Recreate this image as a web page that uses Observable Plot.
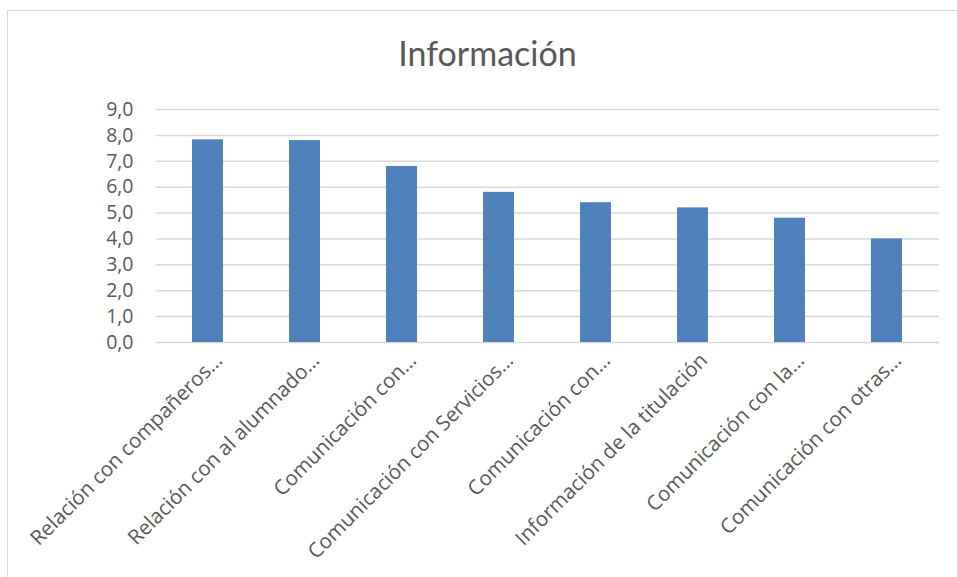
<!DOCTYPE html>
<html>
<head>
<meta charset="utf-8">
<script src="https://cdn.jsdelivr.net/npm/d3@7"></script>
<script src="https://cdn.jsdelivr.net/npm/@observablehq/plot@0.6"></script>
<style>
  html, body { margin: 0; padding: 0; background: #fff; }
  #wrap { position: relative; width: 957px; height: 577px; overflow: hidden; font-family: Lato, "Open Sans", sans-serif; }
  #frame { position: absolute; left: 7px; top: 10px; width: 1000px; height: 700px; border: 1.5px solid #d9d9d9; box-sizing: border-box; }
  #title { position: absolute; left: 7px; width: 961px; top: 33px; text-align: center; font-size: 34px; color: #595959; line-height: 40px; }
  #chart { position: absolute; left: 0; top: 0; }
</style>
</head>
<body>
<div id="wrap">
  <div id="frame"></div>
  <div id="title">Información</div>
  <div id="chart"></div>
</div>
<script>
const categories = [
  "Relación con compañeros",
  "Relación con al alumnado",
  "Comunicación con el profesorado",
  "Comunicación con Servicios",
  "Comunicación con coordinación",
  "Información de la titulación",
  "Comunicación con la dirección",
  "Comunicación con otras unidades"
];
const tickLabels = [
  "Relación con compañeros…",
  "Relación con al alumnado…",
  "Comunicación con…",
  "Comunicación con Servicios…",
  "Comunicación con…",
  "Información de la titulación",
  "Comunicación con la…",
  "Comunicación con otras…"
];
const values = [7.83, 7.8, 6.8, 5.8, 5.4, 5.2, 4.8, 4.0];
const yTicks = [0, 1, 2, 3, 4, 5, 6, 7, 8, 9];

const data = categories.map((c, i) => ({cat: c, label: tickLabels[i], value: values[i]}));
const fmt = d => d3.format(".1f")(d).replace(".", ",");

const chart = Plot.plot({
  width: 957,
  height: 577,
  marginTop: 109,
  marginBottom: 235,
  marginLeft: 156,
  marginRight: 18,
  style: {fontFamily: "'Open Sans', Lato, sans-serif", background: "transparent", color: "#595959"},
  x: {domain: categories, paddingInner: 0.68, paddingOuter: 0.34, axis: null},
  y: {domain: [0, 9], axis: null},
  marks: [
    Plot.gridY(yTicks, {stroke: "#d9d9d9", strokeOpacity: 1, strokeWidth: 1.5}),
    Plot.barY(data, {x: "cat", y: "value", fill: "#4f81bd"}),
    Plot.axisY(yTicks, {tickSize: 0, tickPadding: 23, tickFormat: fmt, fontSize: 19.5, fill: "#595959", label: null}),
    Plot.text(data, {x: "cat", text: "label", frameAnchor: "bottom", rotate: -45, textAnchor: "end", lineAnchor: "middle", dx: 11, dy: 14.5, fontSize: 20.5, fill: "#595959"})
  ]
});
document.getElementById("chart").append(chart);
</script>
</body>
</html>
